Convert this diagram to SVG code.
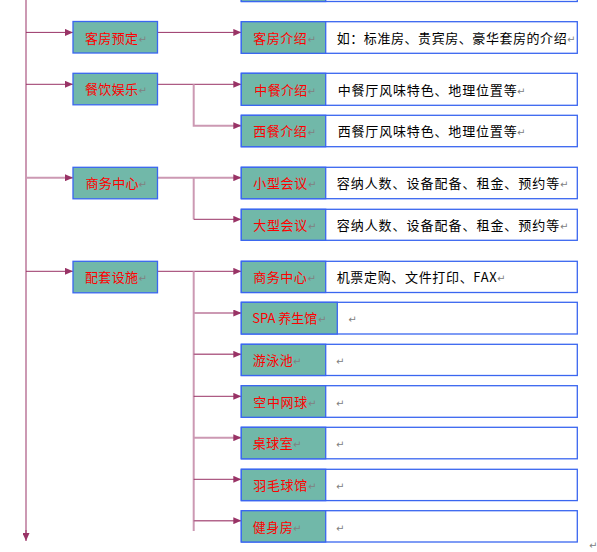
<svg xmlns="http://www.w3.org/2000/svg" width="597" height="552" viewBox="0 0 597 552">
<style>
.bg{fill:#ffffff}
.teal{fill:#71b8a9;stroke:#3a66f0;stroke-width:1.3}
.white{fill:#ffffff;stroke:#3a66f0;stroke-width:1.3}
.lbl{font-family:"Noto Sans CJK SC","Liberation Serif",serif;font-size:13px;fill:#ff0000}
.desc{font-family:"Noto Sans CJK SC","Liberation Serif",serif;font-size:13px;fill:#000000}
.pm{font-family:"DejaVu Sans",sans-serif;font-size:10px;fill:#808080}
.dk{fill:none;stroke:#993366;stroke-width:1}
.lt{fill:none;stroke:#cc99b3;stroke-width:2}
.md{fill:none;stroke:#b3668c;stroke-width:1.5}
</style>
<defs>
<marker id="ah" markerUnits="userSpaceOnUse" markerWidth="8" markerHeight="7" refX="8" refY="3.5" orient="auto">
<path d="M0,0 L8,3.5 L0,7 Z" fill="#993366"/>
</marker>
</defs>
<rect class="bg" x="0" y="0" width="597" height="552"/>

<g id="connectors">
<path class="lt" d="M26,0 V536"/>
<path class="dk" d="M26,530 V541" marker-end="url(#ah)"/>
<path class="dk" d="M26,32.4 H73" marker-end="url(#ah)"/>
<path class="dk" d="M26,84.3 H73" marker-end="url(#ah)"/>
<path class="lt" d="M26,177.7 H73" marker-end="url(#ah)"/>
<path class="dk" d="M26,271.3 H73" marker-end="url(#ah)"/>
<path class="dk" d="M157.5,32.4 H241.3" marker-end="url(#ah)"/>
<path class="dk" d="M157.5,84.3 H241.3" marker-end="url(#ah)"/>
<path class="lt" d="M193.7,84.3 V125.7 H241.3" marker-end="url(#ah)"/>
<path class="lt" d="M157.5,177.7 H241.3" marker-end="url(#ah)"/>
<path class="lt" d="M193.7,177.7 V219.3"/>
<path class="dk" d="M193.7,219.3 H241.3" marker-end="url(#ah)"/>
<path class="dk" d="M157.5,271.3 H241.3" marker-end="url(#ah)"/>
<path class="lt" d="M193.7,271.3 V531"/>
<path class="lt" d="M193.7,313 H241.3" marker-end="url(#ah)"/>
<path class="md" d="M193.7,354.3 H241.3" marker-end="url(#ah)"/>
<path class="dk" d="M193.7,396.3 H241.3" marker-end="url(#ah)"/>
<path class="lt" d="M193.7,437.7 H241.3" marker-end="url(#ah)"/>
<path class="dk" d="M193.7,479.3 H241.3" marker-end="url(#ah)"/>
<path class="md" d="M193.7,520.7 H241.3" marker-end="url(#ah)"/>
</g>

<g id="top-cut">
<rect class="white" x="241.3" y="-30" width="336" height="31.5"/>
<rect class="teal" x="241.3" y="-30" width="84.4" height="31.5"/>
</g>

<g id="n-kefang-yuding">
<rect class="teal" x="73" y="21.5" width="84.5" height="31.5"/>
<text class="lbl" x="85" y="42.5" textLength="53" lengthAdjust="spacing">客房预定</text>
<text class="pm" x="138.5" y="42.5">↵</text>
</g>
<g id="n-canyin">
<rect class="teal" x="73" y="73.3" width="84.5" height="31.5"/>
<text class="lbl" x="85" y="94.3" textLength="53" lengthAdjust="spacing">餐饮娱乐</text>
<text class="pm" x="138.5" y="94.3">↵</text>
</g>
<g id="n-shangwu">
<rect class="teal" x="73" y="167.3" width="84.5" height="31.5"/>
<text class="lbl" x="85.5" y="188.3" textLength="53" lengthAdjust="spacing">商务中心</text>
<text class="pm" x="138.5" y="188.3">↵</text>
</g>
<g id="n-peitao">
<rect class="teal" x="73" y="261.3" width="84.5" height="31.5"/>
<text class="lbl" x="85" y="282.3" textLength="53" lengthAdjust="spacing">配套设施</text>
<text class="pm" x="138.5" y="282.3">↵</text>
</g>

<g id="n-kefang-jieshao">
<rect class="white" x="241.3" y="21.7" width="336" height="31.6"/>
<rect class="teal" x="241.3" y="21.7" width="84.4" height="31.6"/>
<text class="lbl" x="253.3" y="42.7" textLength="53.4" lengthAdjust="spacing">客房介绍</text>
<text class="pm" x="307.5" y="42.7">↵</text>
<text class="desc" x="336.7" y="42.7" textLength="230" lengthAdjust="spacing">如：标准房、贵宾房、豪华套房的介绍</text>
<text class="pm" x="567" y="42.7">↵</text>
</g>
<g id="n-zhongcan">
<rect class="white" x="241.3" y="73.3" width="336" height="32"/>
<rect class="teal" x="241.3" y="73.3" width="84.4" height="32"/>
<text class="lbl" x="254.3" y="94.5" textLength="53" lengthAdjust="spacing">中餐介绍</text>
<text class="pm" x="307.5" y="94.5">↵</text>
<text class="desc" x="337.7" y="94.5" textLength="179" lengthAdjust="spacing">中餐厅风味特色、地理位置等</text>
<text class="pm" x="517" y="94.5">↵</text>
</g>
<g id="n-xican">
<rect class="white" x="241.3" y="115.3" width="336" height="31.4"/>
<rect class="teal" x="241.3" y="115.3" width="84.4" height="31.4"/>
<text class="lbl" x="253.3" y="136.3" textLength="53.4" lengthAdjust="spacing">西餐介绍</text>
<text class="pm" x="307.5" y="136.3">↵</text>
<text class="desc" x="337.7" y="136.3" textLength="179" lengthAdjust="spacing">西餐厅风味特色、地理位置等</text>
<text class="pm" x="517" y="136.3">↵</text>
</g>
<g id="n-xiaoxing">
<rect class="white" x="241.3" y="167.3" width="336" height="31.4"/>
<rect class="teal" x="241.3" y="167.3" width="84.4" height="31.4"/>
<text class="lbl" x="253.3" y="188.3" textLength="54" lengthAdjust="spacing">小型会议</text>
<text class="pm" x="308" y="188.3">↵</text>
<text class="desc" x="336.7" y="188.3" textLength="222.6" lengthAdjust="spacing">容纳人数、设备配备、租金、预约等</text>
<text class="pm" x="560" y="188.3">↵</text>
</g>
<g id="n-daxing">
<rect class="white" x="241.3" y="209.3" width="336" height="31"/>
<rect class="teal" x="241.3" y="209.3" width="84.4" height="31"/>
<text class="lbl" x="253.3" y="230" textLength="54" lengthAdjust="spacing">大型会议</text>
<text class="pm" x="308" y="230">↵</text>
<text class="desc" x="336.7" y="230" textLength="222.6" lengthAdjust="spacing">容纳人数、设备配备、租金、预约等</text>
<text class="pm" x="560" y="230">↵</text>
</g>
<g id="n-shangwu2">
<rect class="white" x="241.3" y="261.3" width="336" height="31.2"/>
<rect class="teal" x="241.3" y="261.3" width="84.4" height="31.2"/>
<text class="lbl" x="253.3" y="282.3" textLength="53.4" lengthAdjust="spacing">商务中心</text>
<text class="pm" x="307.5" y="282.3">↵</text>
<text class="desc" x="336.7" y="282.3" textLength="160" lengthAdjust="spacing">机票定购、文件打印、FAX</text>
<text class="pm" x="497" y="282.3">↵</text>
</g>
<g id="n-spa">
<rect class="white" x="241.3" y="302.3" width="336" height="31.7"/>
<rect class="teal" x="241.3" y="302.3" width="96" height="31.7"/>
<text class="lbl" x="252.3" y="323.3" textLength="65" lengthAdjust="spacing">SPA 养生馆</text>
<text class="pm" x="318" y="323.3">↵</text>
<text class="pm" x="348.3" y="323.3">↵</text>
</g>
<g id="n-youyong">
<rect class="white" x="241.3" y="344.3" width="336" height="31.2"/>
<rect class="teal" x="241.3" y="344.3" width="84.4" height="31.2"/>
<text class="lbl" x="252.7" y="365.3" textLength="40" lengthAdjust="spacing">游泳池</text>
<text class="pm" x="293" y="365.3">↵</text>
<text class="pm" x="336" y="365.3">↵</text>
</g>
<g id="n-wangqiu">
<rect class="white" x="241.3" y="385.7" width="336" height="31.6"/>
<rect class="teal" x="241.3" y="385.7" width="84.4" height="31.6"/>
<text class="lbl" x="253.3" y="406.7" textLength="54" lengthAdjust="spacing">空中网球</text>
<text class="pm" x="308" y="406.7">↵</text>
<text class="pm" x="336" y="406.7">↵</text>
</g>
<g id="n-zhuoqiu">
<rect class="white" x="241.3" y="427.3" width="336" height="31.5"/>
<rect class="teal" x="241.3" y="427.3" width="84.4" height="31.5"/>
<text class="lbl" x="252.7" y="448.3" textLength="40" lengthAdjust="spacing">桌球室</text>
<text class="pm" x="293" y="448.3">↵</text>
<text class="pm" x="336" y="448.3">↵</text>
</g>
<g id="n-yumao">
<rect class="white" x="241.3" y="469.3" width="336" height="31.3"/>
<rect class="teal" x="241.3" y="469.3" width="84.4" height="31.3"/>
<text class="lbl" x="253.3" y="490.3" textLength="54" lengthAdjust="spacing">羽毛球馆</text>
<text class="pm" x="308" y="490.3">↵</text>
<text class="pm" x="336" y="490.3">↵</text>
</g>
<g id="n-jianshen">
<rect class="white" x="241.3" y="510.7" width="336" height="31.3"/>
<rect class="teal" x="241.3" y="510.7" width="84.4" height="31.3"/>
<text class="lbl" x="252.7" y="531.7" textLength="40" lengthAdjust="spacing">健身房</text>
<text class="pm" x="293" y="531.7">↵</text>
<text class="pm" x="336" y="531.7">↵</text>
</g>
<text class="pm" x="589" y="549">↵</text>
</svg>
